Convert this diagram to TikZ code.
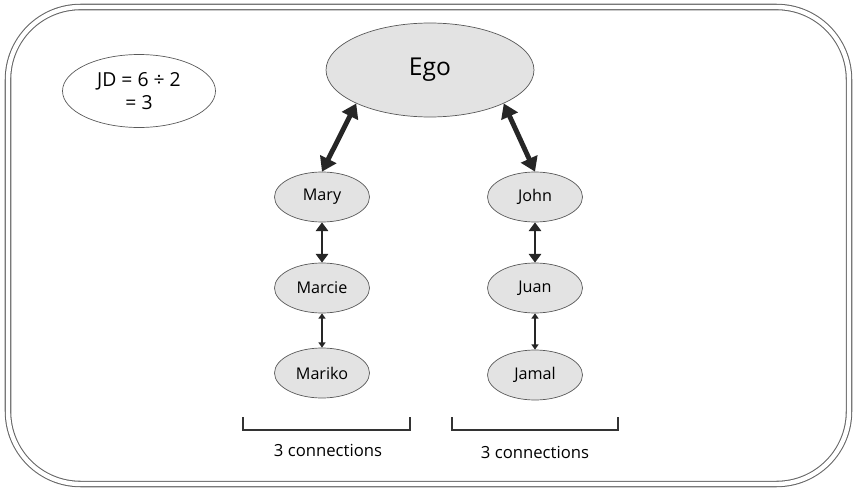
\documentclass[tikz,border=0pt]{standalone}
\usepackage{fontspec}
\setmainfont{Open Sans}
\usetikzlibrary{shapes.geometric,arrows.meta}

\begin{document}
\begin{tikzpicture}[x=0.02cm,y=-0.02cm,
  person/.style={ellipse,draw=gray!70!black,fill=gray!22,inner sep=0pt,
    minimum width=1.9cm,minimum height=1.0cm,font=\fontsize{9.2}{11}\selectfont},
  link/.style={line width=#1,draw=black!85}]
  \useasboundingbox (0,0) rectangle (856,490);

  \draw[gray!80!black,double=white,double distance=2.5pt,line width=0.6pt,rounded corners=1.45cm]
    (8,7) rectangle (849,484);

  \node[ellipse,draw=gray!70!black,fill=gray!22,minimum width=4.16cm,minimum height=1.88cm,
    font=\fontsize{14}{16}\selectfont] (ego) at (430,70) {Ego};
  \node[ellipse,draw=gray!70!black,align=center,minimum width=3.06cm,minimum height=1.46cm,
    font=\fontsize{11}{13}\selectfont] (jd) at (139,91) {JD = 6 ÷ 2\\= 3};

  \node[person] (mary) at (322,197) {Mary};
  \node[person] (marcie) at (322,288) {Marcie};
  \node[person] (mariko) at (322,373) {Mariko};
  \node[person] (john) at (535,197) {John};
  \node[person] (juan) at (535,288) {Juan};
  \node[person] (jamal) at (535,375) {Jamal};

  \draw[link=2.8pt,{Triangle[length=8pt,width=10pt]}-{Triangle[length=8pt,width=10pt]}] (mary.north) -- (ego.south west);
  \draw[link=2.8pt,{Triangle[length=8pt,width=10pt]}-{Triangle[length=8pt,width=10pt]}] (john.north) -- (ego.south east);
  \draw[link=1.7pt,{Triangle[length=5pt,width=7pt]}-{Triangle[length=5pt,width=7pt]}] (mary) -- (marcie);
  \draw[link=1.7pt,{Triangle[length=5pt,width=7pt]}-{Triangle[length=5pt,width=7pt]}] (john) -- (juan);
  \draw[link=0.8pt,{Triangle[length=3pt,width=4pt]}-{Triangle[length=3pt,width=4pt]}] (marcie) -- (mariko);
  \draw[link=0.8pt,{Triangle[length=3pt,width=4pt]}-{Triangle[length=3pt,width=4pt]}] (juan) -- (jamal);

  % brackets under the two chains
  \draw[line width=1pt,black!80] (243,417) -- (243,430) -- (410,430) -- (410,417);
  \draw[line width=1pt,black!80] (452,417) -- (452,430) -- (618,430) -- (618,417);
  \node[font=\fontsize{9.5}{11}\selectfont] (leftcount) at (328,450) {3 connections};
  \node[font=\fontsize{9.5}{11}\selectfont] (rightcount) at (535,452) {3 connections};
\end{tikzpicture}
\end{document}
